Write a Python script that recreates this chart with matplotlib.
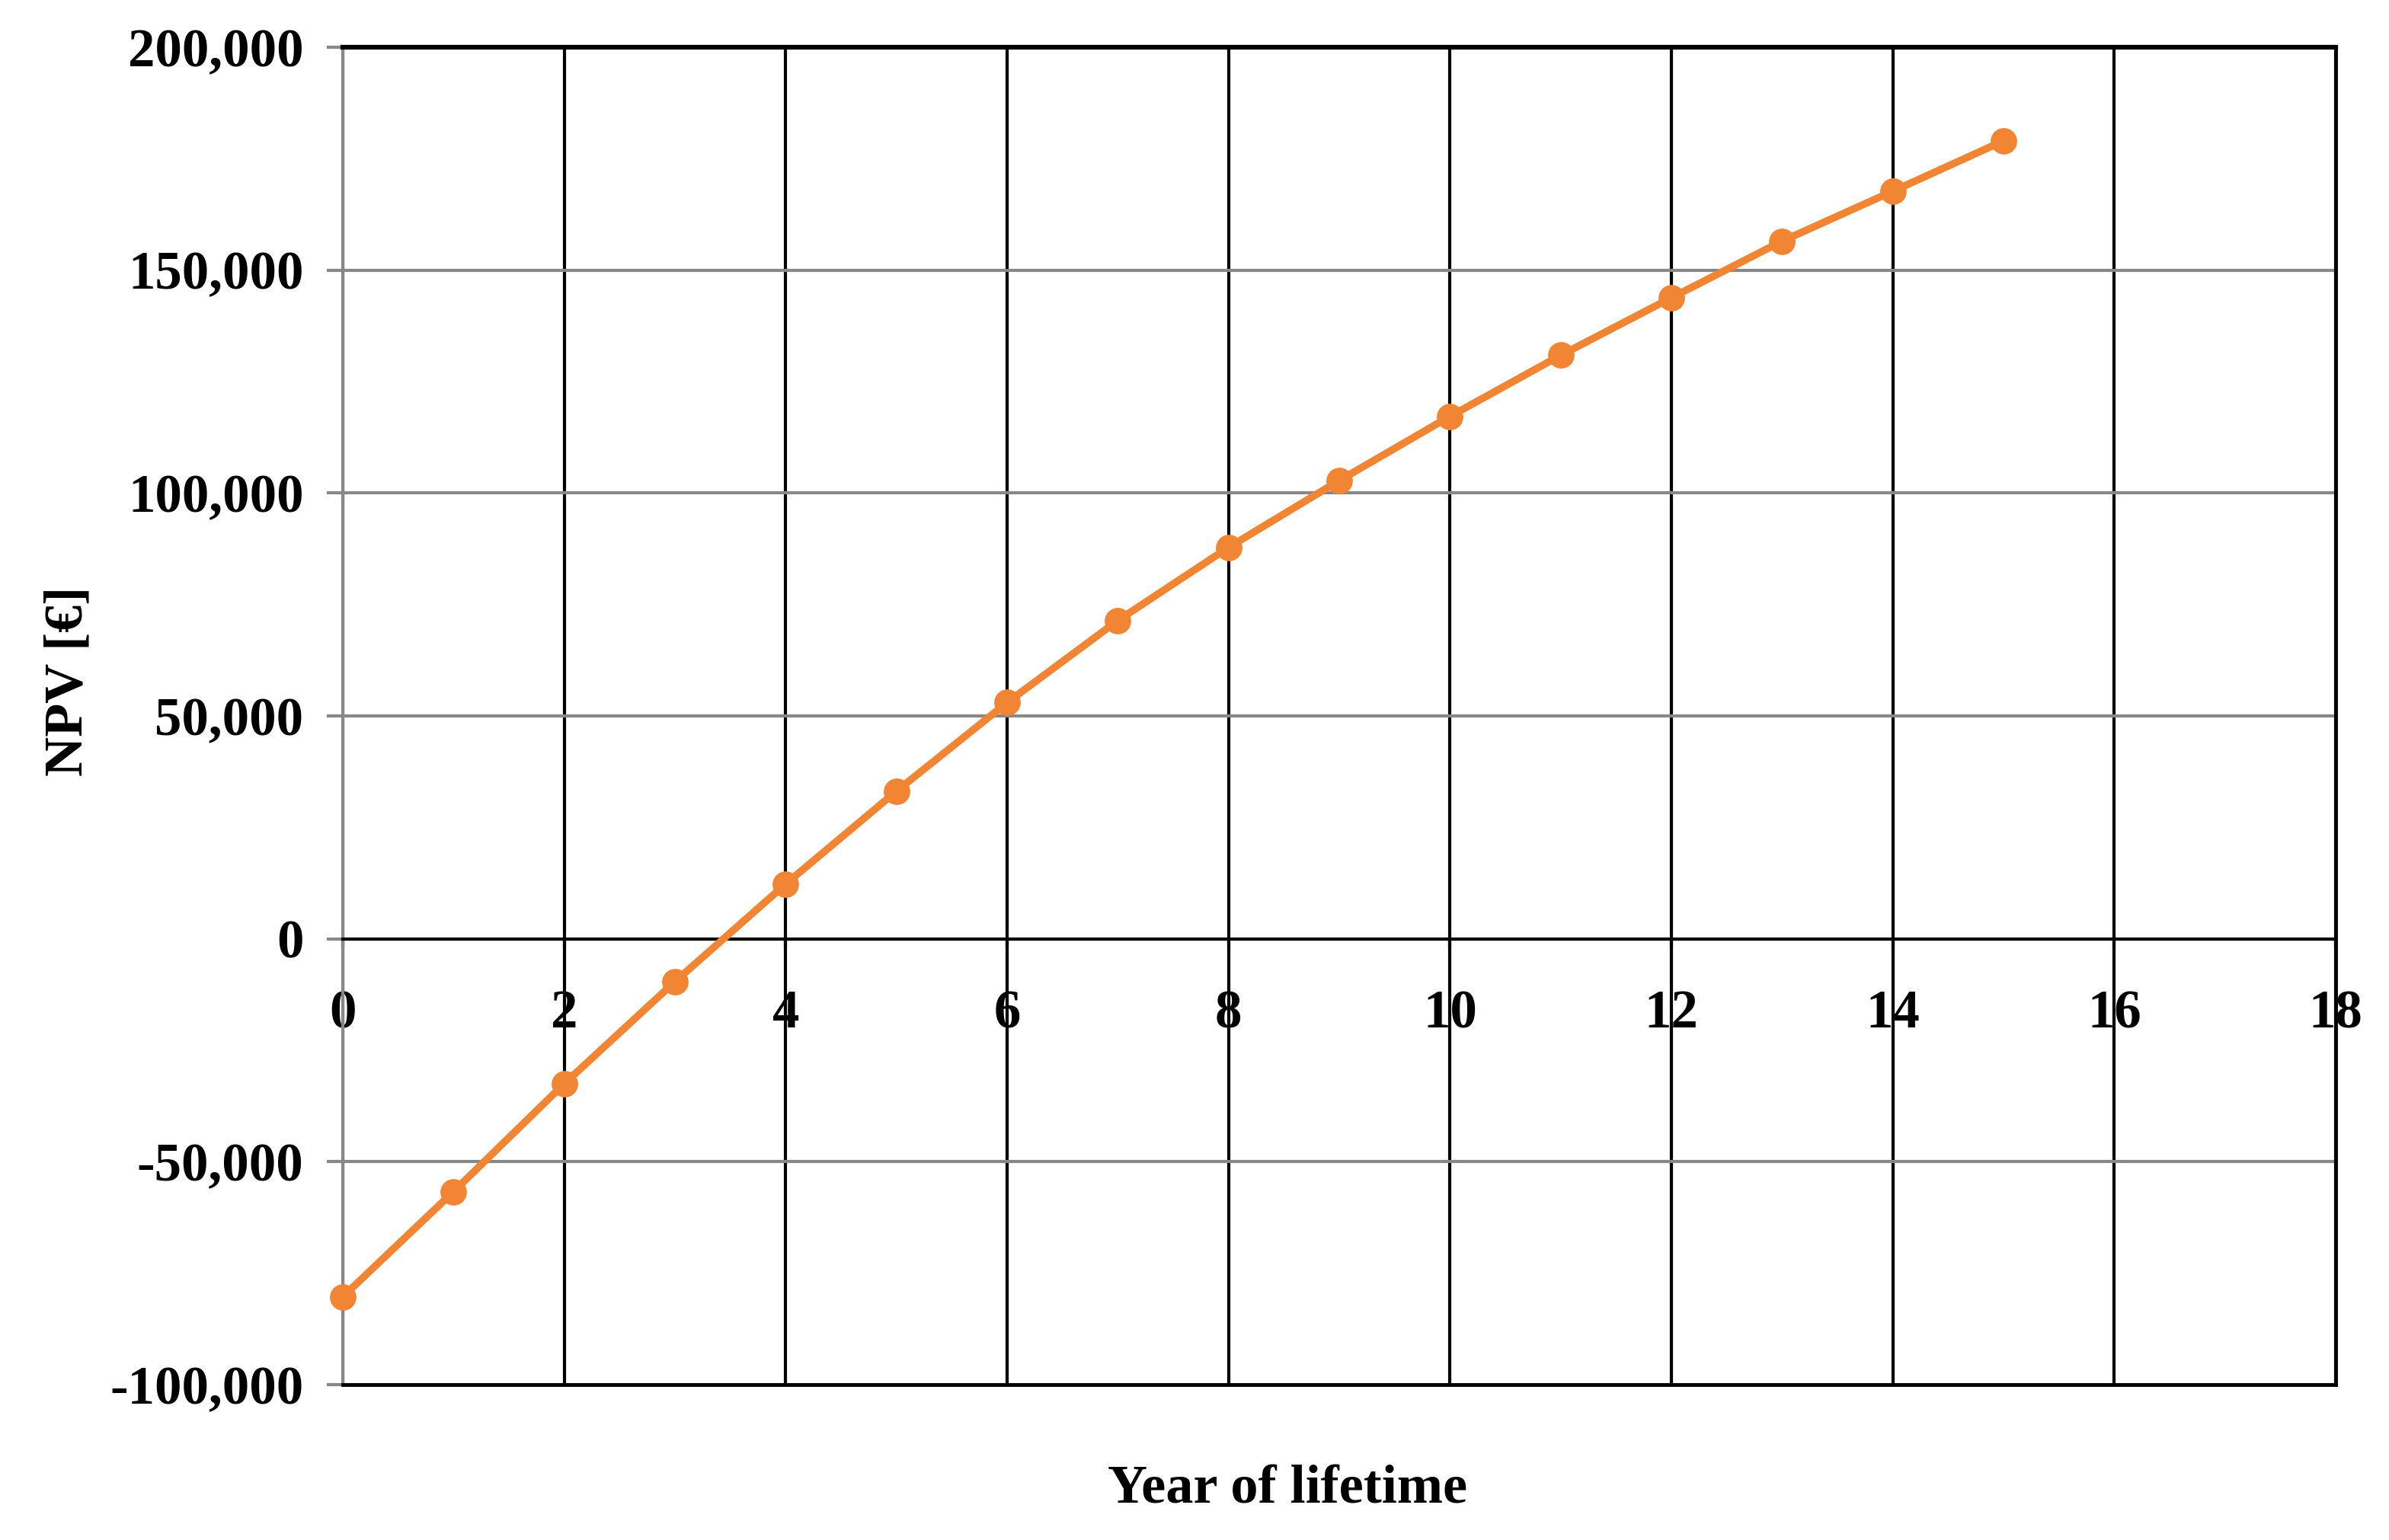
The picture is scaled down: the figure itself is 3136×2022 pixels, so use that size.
import numpy as np
import matplotlib.pyplot as plt
from matplotlib.ticker import FuncFormatter, MultipleLocator

plt.rcParams['font.family'] = ['Liberation Serif', 'DejaVu Serif']
plt.rcParams['font.weight'] = 'bold'
plt.rcParams['axes.unicode_minus'] = False

years = np.arange(0, 16)
npv = [-80300, -56700, -32500, -9600, 12300, 33100, 53000, 71400,
       87800, 102800, 117200, 130900, 143800, 156500, 167700, 179000]

orange = '#F28533'
grey = '#888888'

fig = plt.figure(figsize=(31.36, 20.22), dpi=100)
ax = fig.add_axes([450 / 3136, 1 - 1818 / 2022, 2616 / 3136, 1756 / 2022])

ax.plot(years, npv, color=orange, lw=7, marker='o', markersize=24,
        zorder=5, clip_on=False)

ax.set_xlim(0, 18)
ax.set_ylim(-100000, 200000)
ax.xaxis.set_major_locator(MultipleLocator(2))
ax.yaxis.set_major_locator(MultipleLocator(50000))
ax.yaxis.set_major_formatter(FuncFormatter(lambda v, p: f'{v:,.0f}'))

ax.grid(axis='x', color='black', lw=3)
ax.grid(axis='y', color=grey, lw=3)
ax.set_axisbelow(True)

# x axis sits on the zero line, frame closed at the bottom by hand
ax.spines['bottom'].set_position(('data', 0))
ax.spines['bottom'].set_color('black')
ax.spines['bottom'].set_linewidth(3)
ax.axhline(-100000, color='black', lw=3.5, clip_on=False, zorder=3)
ax.spines['top'].set_color('black')
ax.spines['top'].set_linewidth(4.5)
ax.spines['right'].set_color('black')
ax.spines['right'].set_linewidth(3.5)
ax.spines['left'].set_color(grey)
ax.spines['left'].set_linewidth(3)

ax.tick_params(axis='x', direction='out', length=8, width=3, color='black',
               pad=40, labelsize=51)
ax.tick_params(axis='y', direction='out', length=15, width=3, color=grey,
               pad=22, labelsize=51)

fig.text(1690 / 3136, 1 - 1956 / 2022, 'Year of lifetime', fontsize=52,
         ha='center', va='center')
fig.text(90 / 3136, 1 - 894 / 2022, 'NPV [€]', fontsize=52, rotation=90,
         ha='center', va='center')

fig.savefig('out.png', dpi=100, facecolor='white')
